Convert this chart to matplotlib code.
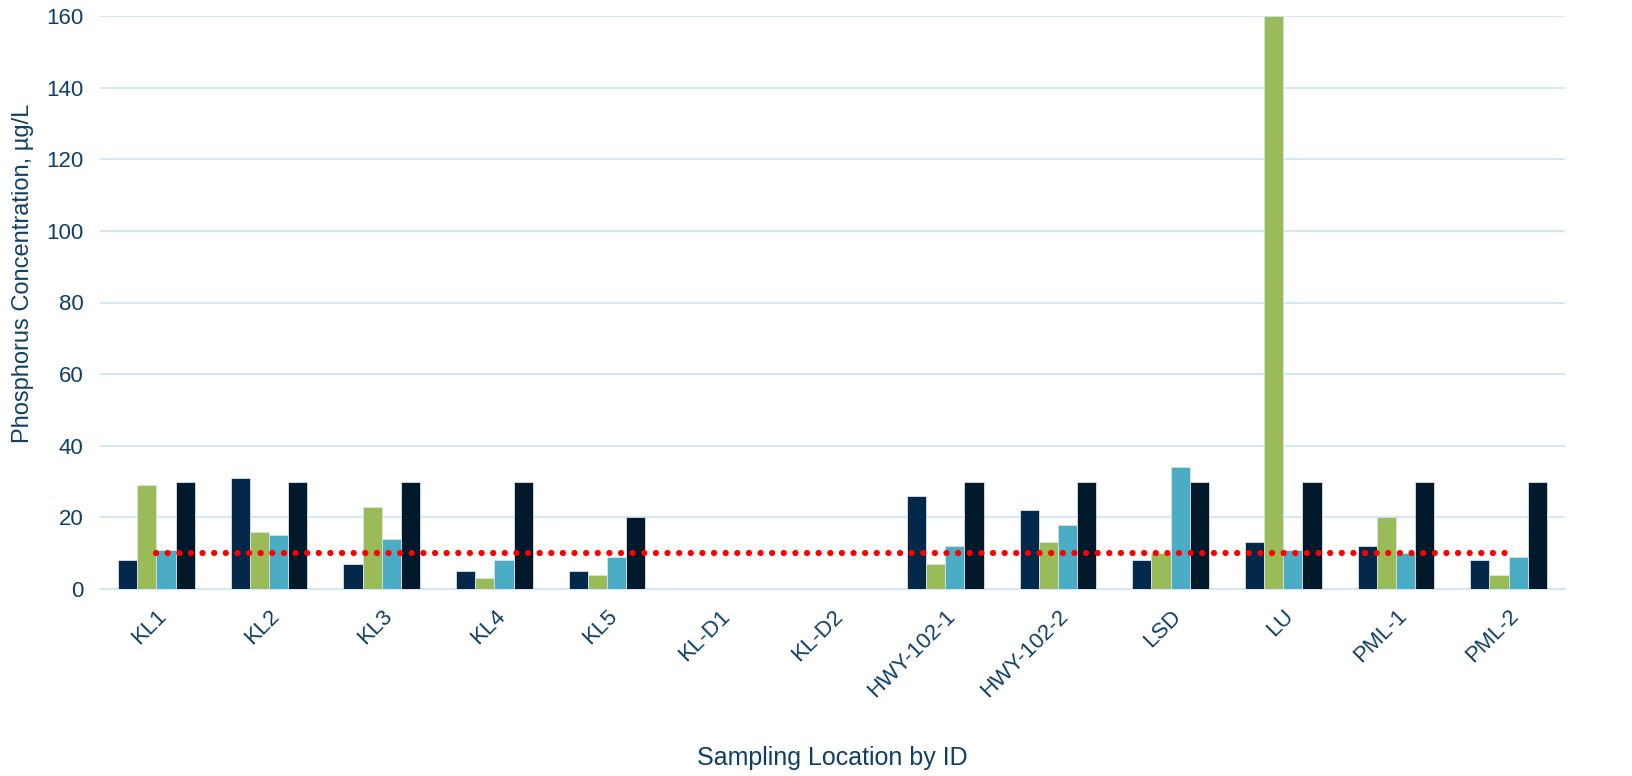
import matplotlib
matplotlib.use("Agg")
import matplotlib.pyplot as plt
import numpy as np

categories = ["KL1", "KL2", "KL3", "KL4", "KL5", "KL-D1", "KL-D2",
              "HWY-102-1", "HWY-102-2", "LSD", "LU", "PML-1", "PML-2"]
series1 = [8, 31, 7, 5, 5, np.nan, np.nan, 26, 22, 8, 13, 12, 8]
series2 = [29, 16, 23, 3, 4, np.nan, np.nan, 7, 13, 10, 160, 20, 4]
series3 = [11, 15, 14, 8, 9, np.nan, np.nan, 12, 18, 34, 11, 10, 9]
series4 = [30, 30, 30, 30, 20, np.nan, np.nan, 30, 30, 30, 30, 30, 30]
threshold = [10] * len(categories)
yticks = [0, 20, 40, 60, 80, 100, 120, 140, 160]

colors = ["#03284A", "#9BBB59", "#4BACC6", "#02192B"]
text_color = "#0F3F66"
grid_color = "#CDE6F8"

plt.rcParams['font.family'] = ['Liberation Sans', 'DejaVu Sans']

fig = plt.figure(figsize=(16.33, 7.76), dpi=100)
ax = fig.add_axes([100/1633, 1-589/776, 1465/1633, 573/776])

x = np.arange(len(categories))
bw = 0.17
for i, (vals, c) in enumerate(zip([series1, series2, series3, series4], colors)):
    ax.bar(x + (i - 1.5) * bw, vals, width=bw, color=c, edgecolor="#D9E1E8",
           linewidth=0.6, zorder=3)

ax.plot(x, threshold, linestyle=(0, (0.01, 1.85)), color="#FF0000", linewidth=4.5,
        dash_capstyle='round', solid_capstyle='round', zorder=4)

ax.set_xlim(-0.5, len(categories) - 0.5)
ax.set_ylim(0, 160)
ax.set_yticks(yticks)
ax.yaxis.grid(True, color=grid_color, linewidth=1.3, zorder=0)
ax.set_axisbelow(True)
for s in ["top", "right", "left"]:
    ax.spines[s].set_visible(False)
ax.spines["bottom"].set_color(grid_color)
ax.spines["bottom"].set_linewidth(1.3)
ax.tick_params(axis="both", length=0, colors=text_color, labelsize=16)
ax.tick_params(axis="y", pad=12)
ax.set_xticks(x)
ax.set_xticklabels(categories, rotation=45, ha="right", rotation_mode="anchor")
ax.tick_params(axis="x", pad=12)

ax.set_ylabel("Phosphorus Concentration, µg/L", color=text_color, fontsize=17)
ax.yaxis.set_label_coords(-66/1465, (589-273)/573)
ax.set_xlabel("Sampling Location by ID", color=text_color, fontsize=18, labelpad=32)

fig.savefig("out.png", dpi=100)
